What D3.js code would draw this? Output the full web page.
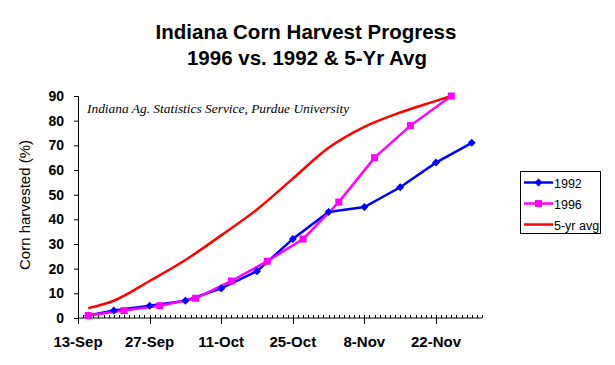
<!DOCTYPE html>
<html>
<head>
<meta charset="utf-8">
<script src="https://cdn.jsdelivr.net/npm/d3@7"></script>
<style>
  body { margin: 0; background: #fff; }
  svg { display: block; }
</style>
</head>
<body>
<div id="chart"></div>
<script>
// harvest progress, dates put on the 1996 calendar
const dates1992 = ["1996-09-15", "1996-09-20", "1996-09-27", "1996-10-04", "1996-10-11", "1996-10-18",
                   "1996-10-25", "1996-11-01", "1996-11-08", "1996-11-15", "1996-11-22", "1996-11-29"];
const vals1992 = [1, 3, 5, 7, 12, 19, 32, 43, 45, 53, 63, 71];

const dates1996 = ["1996-09-15", "1996-09-22", "1996-09-29", "1996-10-06", "1996-10-13", "1996-10-20",
                   "1996-10-27", "1996-11-03", "1996-11-10", "1996-11-17", "1996-11-25"];
const vals1996 = [1, 3, 5, 8, 15, 23, 32, 47, 65, 78, 90];

const datesAvg = ["1996-09-15", "1996-09-20", "1996-09-27", "1996-10-04", "1996-10-11", "1996-10-18",
                  "1996-10-25", "1996-11-01", "1996-11-08", "1996-11-15", "1996-11-22", "1996-11-25"];
const valsAvg = [4, 7, 15, 23.5, 33.5, 44, 56.5, 69, 77.5, 83.3, 88, 90];

const xTicks = ["1996-09-13", "1996-09-27", "1996-10-11", "1996-10-25", "1996-11-08", "1996-11-22"];
const yTicks = [0, 10, 20, 30, 40, 50, 60, 70, 80, 90];

const width = 615, height = 365;
const plot = {left: 78, right: 482, top: 96, bottom: 318};
const sans = "Arial, 'Liberation Sans', sans-serif";

const parse = d3.timeParse("%Y-%m-%d");
const fmt = d3.timeFormat("%-d-%b");

const svg = d3.select("#chart").append("svg")
    .attr("width", width)
    .attr("height", height);

let x = d3.scaleTime()
    .domain([parse("1996-09-13"), parse("1996-12-01")])
    .range([plot.left, plot.right]);

let y = d3.scaleLinear()
    .domain([0, 90])
    .range([plot.bottom, plot.top]);

// title
svg.append("text")
    .attr("x", 306).attr("y", 39)
    .attr("text-anchor", "middle")
    .style("font-family", sans).style("font-weight", "bold").style("font-size", "20.5px")
    .text("Indiana Corn Harvest Progress");
svg.append("text")
    .attr("x", 307).attr("y", 65)
    .attr("text-anchor", "middle")
    .style("font-family", sans).style("font-weight", "bold").style("font-size", "20.5px")
    .text("1996 vs. 1992 & 5-Yr Avg");

// y axis
let yAxis = svg.append("g")
    .attr("transform", `translate(${plot.left},0)`)
    .call(d3.axisLeft(y).tickValues(yTicks).tickSize(4).tickPadding(10));
yAxis.select(".domain").attr("stroke", "#000");
yAxis.selectAll("text")
    .style("font-family", sans).style("font-weight", "bold").style("font-size", "14px")
    .attr("fill", "#000");

svg.append("text")
    .attr("transform", `translate(30, ${(plot.top + plot.bottom) / 2 - 2}) rotate(-90)`)
    .attr("text-anchor", "middle")
    .style("font-family", sans).style("font-size", "15px")
    .text("Corn harvested (%)");

// x axis: daily minor ticks, labelled major ticks every two weeks
let xg = svg.append("g");
xg.append("line")
    .attr("x1", plot.left).attr("x2", plot.right)
    .attr("y1", plot.bottom).attr("y2", plot.bottom)
    .attr("stroke", "#000");
xg.selectAll(".minor")
    .data(d3.timeDay.range(parse("1996-09-13"), parse("1996-12-02")))
    .enter().append("line")
    .attr("x1", d => Math.round(x(d)) + 0.5).attr("x2", d => Math.round(x(d)) + 0.5)
    .attr("y1", plot.bottom - 3).attr("y2", plot.bottom)
    .attr("stroke", "#000");
xg.selectAll(".major")
    .data(xTicks)
    .enter().append("line")
    .attr("x1", d => Math.round(x(parse(d))) + 0.5).attr("x2", d => Math.round(x(parse(d))) + 0.5)
    .attr("y1", plot.bottom - 3).attr("y2", plot.bottom + 6)
    .attr("stroke", "#000");
xg.selectAll(".lab")
    .data(xTicks)
    .enter().append("text")
    .attr("x", d => x(parse(d)))
    .attr("y", 347)
    .attr("text-anchor", "middle")
    .style("font-family", sans).style("font-weight", "bold").style("font-size", "15px")
    .text(d => fmt(parse(d)));

// source note
svg.append("text")
    .attr("x", 87).attr("y", 113)
    .style("font-family", "'Times New Roman', 'Liberation Serif', serif")
    .style("font-style", "italic").style("font-size", "13.4px")
    .text("Indiana Ag. Statistics Service, Purdue University");

// series
const series = [
    {name: "1992", dates: dates1992, vals: vals1992, color: "#0000ff", marker: "diamond", curve: d3.curveLinear},
    {name: "1996", dates: dates1996, vals: vals1996, color: "#ff00ff", marker: "square", curve: d3.curveLinear},
    {name: "5-yr avg", dates: datesAvg, vals: valsAvg, color: "#ff0000", marker: null, curve: d3.curveMonotoneX}
];

series.forEach(function(s) {
    let pts = s.dates.map((d, i) => [x(parse(d)), y(s.vals[i])]);
    svg.append("path")
        .attr("d", d3.line().curve(s.curve)(pts))
        .attr("fill", "none")
        .attr("stroke", s.color)
        .attr("stroke-width", 2.5);
});

function drawMarker(g, kind, cx, cy, color) {
    if (kind === "diamond") {
        g.append("path")
            .attr("d", `M${cx},${cy - 4}L${cx + 4},${cy}L${cx},${cy + 4}L${cx - 4},${cy}Z`)
            .attr("fill", color);
    } else if (kind === "square") {
        g.append("rect")
            .attr("x", cx - 3.5).attr("y", cy - 3.5)
            .attr("width", 7).attr("height", 7)
            .attr("fill", color);
    }
}

series.forEach(function(s) {
    if (!s.marker) return;
    let g = svg.append("g");
    s.dates.forEach(function(d, i) {
        drawMarker(g, s.marker, x(parse(d)), y(s.vals[i]), s.color);
    });
});

// legend
let legend = svg.append("g");
legend.append("rect")
    .attr("x", 520.5).attr("y", 171.5)
    .attr("width", 80).attr("height", 62)
    .attr("fill", "#fff").attr("stroke", "#000");
series.forEach(function(s, i) {
    let ly = 182.5 + i * 21;
    legend.append("line")
        .attr("x1", 524).attr("x2", 553)
        .attr("y1", ly).attr("y2", ly)
        .attr("stroke", s.color).attr("stroke-width", 2.5);
    if (s.marker) drawMarker(legend, s.marker, 538.5, ly, s.color);
    legend.append("text")
        .attr("x", 554).attr("y", ly + 5)
        .style("font-family", sans).style("font-size", "12.5px")
        .text(s.name);
});
</script>
</body>
</html>
